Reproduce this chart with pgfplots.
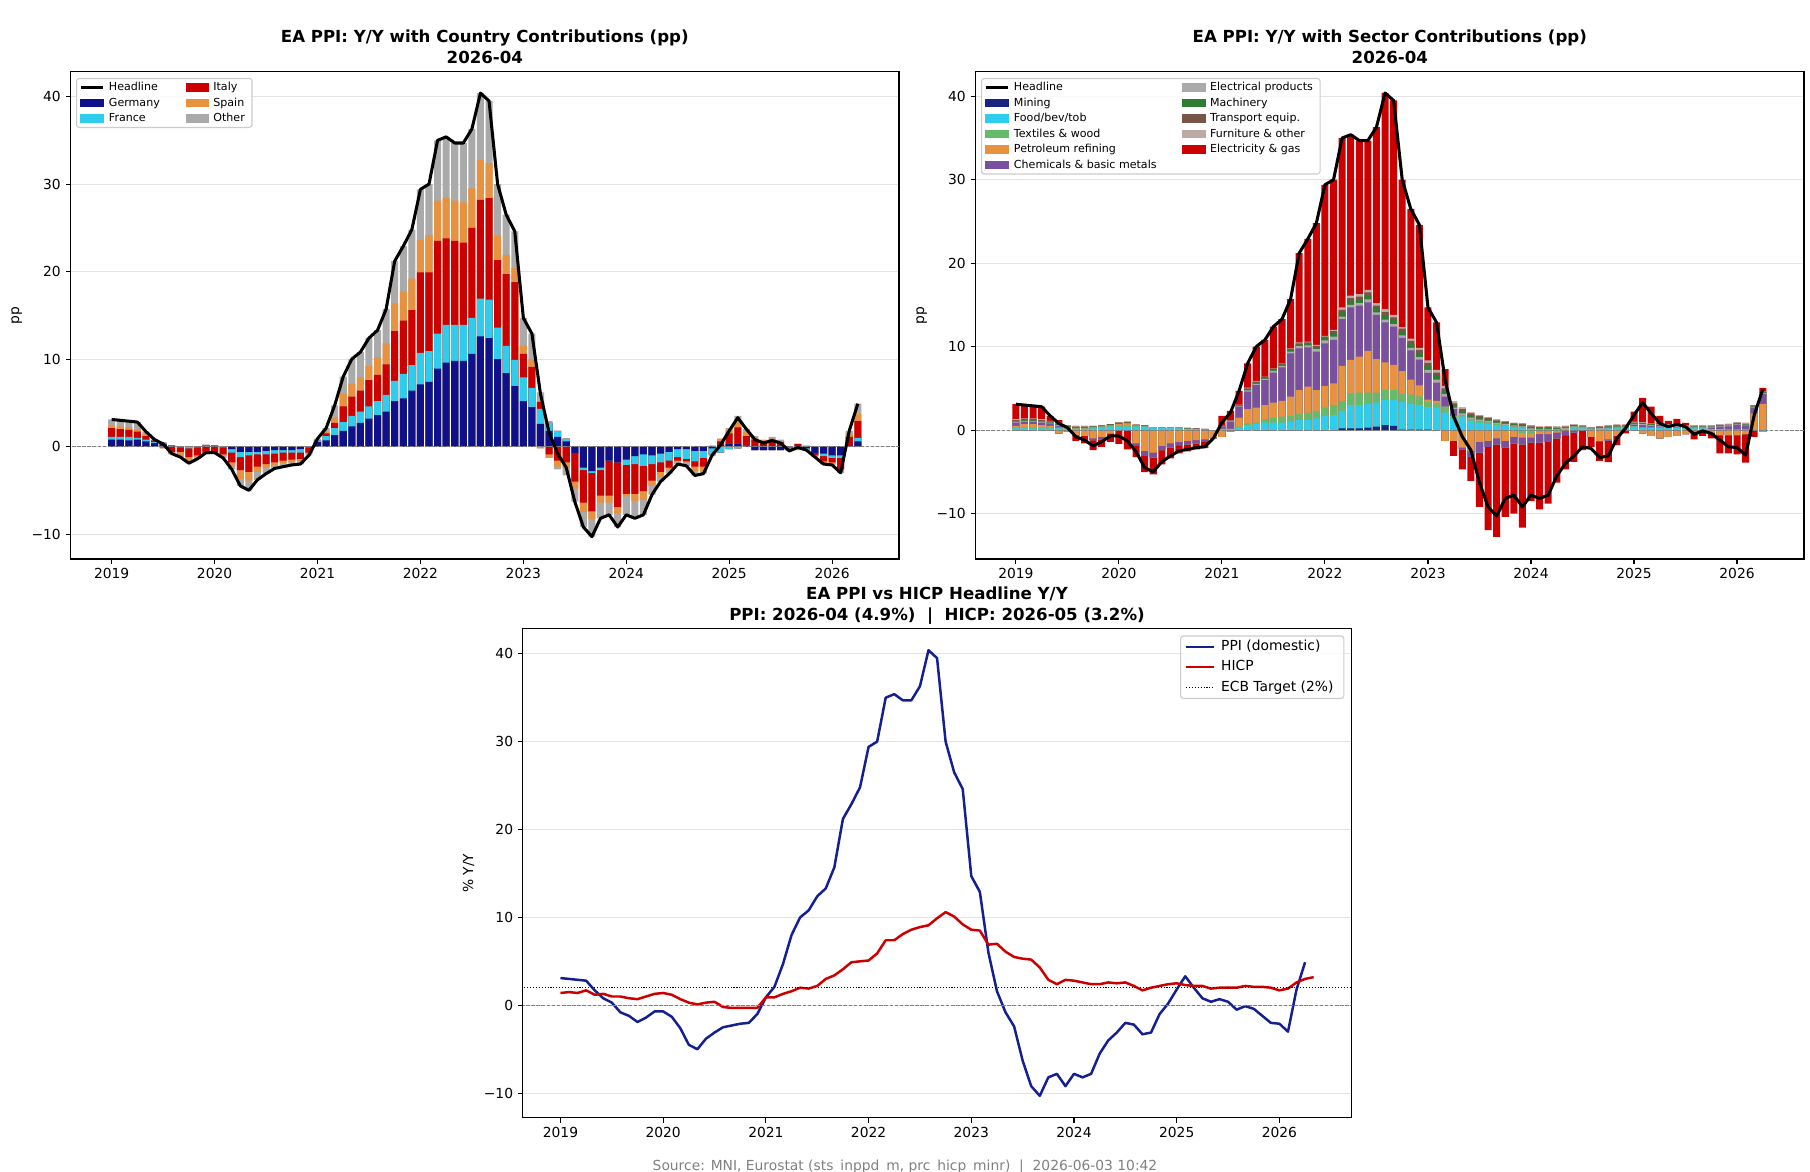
\documentclass[border=0pt]{standalone}
\usepackage{fontspec}
\setmainfont{DejaVu Sans}
\usepackage{pgfplots}
\usepackage{pgfplotstable}
\pgfplotsset{compat=1.18}

% country colours
\definecolor{cDE}{HTML}{10118A}
\definecolor{cFR}{HTML}{2ECDED}
\definecolor{cIT}{HTML}{CC0000}
\definecolor{cES}{HTML}{E8913F}
\definecolor{cOT}{HTML}{AAAAAA}
% sector colours
\definecolor{sMIN}{HTML}{1A237E}
\definecolor{sFOOD}{HTML}{2ECDED}
\definecolor{sTEX}{HTML}{66BB6A}
\definecolor{sPET}{HTML}{E8913F}
\definecolor{sCHEM}{HTML}{7B4FA0}
\definecolor{sELP}{HTML}{AAAAAA}
\definecolor{sMACH}{HTML}{2E7D32}
\definecolor{sTRN}{HTML}{795548}
\definecolor{sFURN}{HTML}{BCAAA4}
\definecolor{sELG}{HTML}{CC0000}
\definecolor{cPPI}{HTML}{14208F}
\definecolor{cHICP}{HTML}{CC0000}

% month index (0 = 2019-01), PPI headline Y/Y and country contributions (pp)
\pgfplotstableread{
m H DE FR IT ES OT
0 3.1 0.8 0.3 1.0 0.3 0.7
1 3.0 0.8 0.3 0.9 0.3 0.7
2 2.9 0.7 0.4 0.8 0.3 0.7
3 2.8 0.8 0.2 0.7 0.3 0.8
4 1.7 0.6 0.2 0.4 0.2 0.3
5 0.8 0.4 0.1 0.2 0.0 0.1
6 0.3 0.3 0.0 -0.1 -0.1 0.2
7 -0.8 0.1 0.0 -0.6 -0.2 -0.1
8 -1.2 0.0 -0.1 -0.5 -0.4 -0.2
9 -1.9 0.0 -0.2 -1.0 -0.4 -0.3
10 -1.4 0.0 -0.1 -0.9 -0.2 -0.2
11 -0.7 0.1 0.1 -0.7 -0.1 -0.1
12 -0.7 0.1 0.0 -0.7 -0.1 0.0
13 -1.3 0.0 -0.1 -0.8 -0.2 -0.2
14 -2.6 -0.3 -0.4 -1.1 -0.4 -0.4
15 -4.5 -0.6 -0.6 -1.5 -1.0 -0.8
16 -5.0 -0.6 -0.4 -1.9 -1.0 -1.1
17 -3.8 -0.6 -0.3 -1.4 -0.6 -0.9
18 -3.1 -0.5 -0.4 -1.1 -0.4 -0.7
19 -2.5 -0.4 -0.4 -1.0 -0.3 -0.4
20 -2.3 -0.4 -0.3 -0.9 -0.3 -0.4
21 -2.1 -0.4 -0.3 -0.8 -0.3 -0.3
22 -2.0 -0.3 -0.4 -0.7 -0.3 -0.3
23 -1.0 0.0 -0.1 -0.6 -0.1 -0.2
24 0.9 0.5 0.2 0.0 0.0 0.2
25 2.1 0.7 0.5 0.3 0.2 0.4
26 4.7 1.3 0.8 0.6 0.6 1.4
27 8.0 1.8 1.0 1.8 1.4 2.0
28 10.0 2.3 1.2 2.2 1.5 2.8
29 10.8 2.7 1.3 2.4 1.5 2.9
30 12.4 3.2 1.4 3.0 1.6 3.2
31 13.3 3.6 1.6 3.0 2.0 3.1
32 15.7 4.0 1.9 3.5 2.4 3.9
33 21.2 5.2 2.3 5.7 3.2 4.8
34 22.9 5.5 2.8 6.1 3.3 5.2
35 24.8 6.4 2.9 6.3 3.6 5.6
36 29.4 7.1 3.6 9.2 3.7 5.8
37 30.0 7.4 3.5 9.0 4.3 5.8
38 35.0 8.9 4.0 10.6 4.6 6.9
39 35.4 9.6 4.3 9.9 4.6 7.0
40 34.7 9.8 4.1 9.6 4.6 6.6
41 34.7 9.8 4.1 9.4 4.6 6.8
42 36.3 10.6 4.1 10.3 4.5 6.8
43 40.4 12.6 4.3 11.3 4.6 7.6
44 39.5 12.4 4.4 11.6 4.0 7.1
45 30.0 10.0 3.6 7.7 2.8 5.9
46 26.5 8.4 3.1 8.2 2.2 4.6
47 24.6 6.9 3.0 8.9 1.6 4.2
48 14.7 5.2 2.7 2.7 0.9 3.2
49 12.9 4.5 2.2 2.4 0.9 2.9
50 6.0 2.6 1.7 0.8 -0.2 1.1
51 1.6 1.8 0.9 -0.9 -0.4 0.2
52 -0.8 1.1 0.7 -1.6 -0.7 -0.3
53 -2.4 0.6 0.3 -1.8 -0.7 -0.8
54 -6.3 -0.8 0.0 -3.2 -0.8 -1.5
55 -9.2 -2.4 -0.3 -3.7 -1.1 -1.7
56 -10.3 -2.8 -0.2 -4.4 -0.9 -2.0
57 -8.2 -2.4 -0.3 -2.9 -0.8 -1.8
58 -7.8 -1.6 0.0 -4.0 -0.8 -1.4
59 -9.2 -1.8 0.0 -5.1 -0.7 -1.6
60 -7.8 -1.5 -0.6 -3.3 -0.3 -2.1
61 -8.2 -1.1 -0.9 -3.4 -0.8 -2.0
62 -7.8 -0.9 -1.3 -2.9 -1.0 -1.7
63 -5.5 -1.0 -1.0 -1.9 -0.6 -1.0
64 -4.0 -0.8 -1.0 -1.1 -0.6 -0.5
65 -3.1 -0.6 -1.0 -0.8 -0.2 -0.5
66 -2.0 -0.3 -0.9 -0.4 -0.1 -0.3
67 -2.2 -0.3 -1.1 -0.3 -0.1 -0.4
68 -3.3 -0.5 -1.2 -0.6 -0.5 -0.5
69 -3.1 -0.5 -0.8 -1.0 -0.5 -0.3
70 -1.0 -0.2 -0.7 0.0 0.1 -0.2
71 0.2 0.2 -0.7 0.4 0.3 0.0
72 1.8 0.3 -0.3 1.2 0.4 0.2
73 3.3 0.3 -0.2 1.9 0.6 0.7
74 2.0 0.1 0.0 1.1 0.5 0.3
75 0.8 -0.4 0.0 0.8 0.2 0.2
76 0.4 -0.4 0.0 0.6 0.1 0.1
77 0.7 -0.4 0.0 0.7 0.2 0.2
78 0.4 -0.4 0.0 0.5 0.1 0.2
79 -0.5 -0.1 -0.1 0.0 -0.2 -0.1
80 -0.1 -0.2 0.0 0.3 0.0 -0.2
81 -0.4 -0.2 -0.1 0.0 0.1 -0.2
82 -1.2 -0.8 0.0 -0.2 -0.1 -0.1
83 -2.0 -0.8 -0.3 -0.6 -0.3 0.0
84 -2.1 -1.0 -0.3 -0.5 -0.2 -0.1
85 -3.0 -1.0 -0.3 -1.3 -0.2 -0.2
86 1.8 0.0 0.0 1.1 0.3 0.4
87 4.9 0.6 0.4 1.9 0.8 1.2
}\ctry

% sector contributions (pp)
\pgfplotstableread{
m MIN FOOD TEX PET CHEM ELP MACH TRN FURN ELG
0 0 0.2 0.1 0.2 0.4 0.1 0.1 0.1 0.1 1.8
1 0 0.2 0.1 0.4 0.3 0.1 0.1 0.1 0.1 1.6
2 0 0.2 0.1 0.4 0.3 0.1 0.1 0.1 0.1 1.5
3 0 0.2 0.1 0.3 0.3 0.1 0.1 0.1 0.1 1.5
4 0 0.2 0.1 0.2 0.3 0.1 0.1 0.05 0.05 0.6
5 0 0.2 0.1 -0.4 0.2 0.1 0.1 0.05 0.05 0.4
6 0 0.1 0.1 -0.2 0.1 0.05 0.1 0.05 0.05 0.0
7 0 0.1 0.1 -0.6 0.0 0.05 0.1 0.05 0.1 -0.7
8 0 0.1 0.1 -0.7 0.0 0.05 0.1 0.05 0.1 -0.9
9 0 0.2 0.1 -1.0 -0.2 0.05 0.05 0.05 0.05 -1.2
10 0 0.3 0.1 -0.8 -0.3 0.05 0.05 0.05 0.05 -0.9
11 0 0.4 0.1 -0.4 0.0 0.05 0.1 0.05 0.0 -1.0
12 0 0.4 0.1 0.2 0.0 0.05 0.1 0.05 0.05 -1.65
13 0 0.4 0.1 0.3 -0.1 0.05 0.05 0.05 0.05 -2.2
14 0 0.4 0.1 -1.6 -0.3 0.05 0.05 0.05 0.0 -1.35
15 0 0.4 0.05 -2.5 -0.6 0.05 0.05 0.0 0.0 -1.95
16 0 0.3 0.0 -2.7 -0.6 0.0 0.0 0.0 0.0 -2.0
17 0 0.25 0.0 -1.9 -0.5 0.0 0.05 0.0 0.0 -1.7
18 0 0.25 0.0 -1.6 -0.5 0.0 0.05 0.0 0.0 -1.3
19 0 0.2 0.0 -1.4 -0.4 0.0 0.05 0.05 0.0 -1.0
20 0 0.15 0.0 -1.3 -0.4 0.0 0.05 0.05 0.0 -0.85
21 0 0.1 0.0 -1.2 -0.4 0.0 0.05 0.05 0.0 -0.7
22 0 0.05 0.0 -1.1 -0.3 0.0 0.05 0.05 0.0 -0.75
23 0 0.0 0.0 -0.9 -0.1 0.0 0.0 0.0 0.0 0.0
24 0 0.1 0.05 -0.8 0.3 0.05 0.05 0.05 0.0 1.1
25 0 0.1 0.05 -0.2 0.8 0.1 0.05 0.05 0.05 1.1
26 0 0.3 0.1 1.1 1.3 0.1 0.05 0.05 0.05 1.65
27 0 0.6 0.2 1.7 2.1 0.15 0.15 0.1 0.1 2.9
28 0 0.7 0.2 1.8 2.7 0.15 0.15 0.1 0.1 4.1
29 0 0.9 0.4 1.7 3.0 0.15 0.1 0.1 0.05 4.4
30 0 0.9 0.6 1.8 3.6 0.2 0.15 0.1 0.05 5.0
31 0 0.9 0.7 1.9 4.0 0.2 0.15 0.1 0.05 5.3
32 0 1.0 0.7 2.3 5.2 0.2 0.2 0.1 0.1 5.9
33 0 1.2 0.7 2.9 5.0 0.25 0.2 0.15 0.1 10.7
34 0 1.2 0.9 3.1 4.7 0.25 0.2 0.15 0.1 12.3
35 0 1.4 0.9 2.5 4.6 0.3 0.25 0.15 0.1 14.6
36 0 1.7 1.0 2.6 5.1 0.35 0.3 0.15 0.1 18.1
37 0 1.8 1.2 2.6 5.2 0.4 0.4 0.25 0.15 18.0
38 0.2 2.1 1.2 4.2 5.6 0.3 0.5 0.3 0.3 20.3
39 0.2 2.8 1.4 4.0 6.3 0.3 0.5 0.3 0.3 19.3
40 0.2 2.8 1.5 4.3 6.1 0.3 0.5 0.3 0.3 18.4
41 0.3 2.8 1.4 5.0 5.8 0.35 0.5 0.35 0.3 17.9
42 0.4 2.9 1.2 4.0 5.3 0.3 0.5 0.3 0.3 21.1
43 0.6 3.0 1.2 3.3 4.8 0.35 0.55 0.35 0.35 25.9
44 0.5 3.1 1.2 3.0 4.6 0.3 0.5 0.3 0.3 25.7
45 0.05 3.3 1.0 2.7 4.0 0.3 0.5 0.3 0.2 17.65
46 0.05 3.1 1.1 1.8 3.5 0.3 0.5 0.35 0.25 15.55
47 0.05 2.9 1.1 1.3 3.1 0.3 0.5 0.35 0.25 14.75
48 0.05 2.7 0.6 0.3 3.2 0.35 0.5 0.35 0.3 6.35
49 0.0 2.7 0.5 0.3 2.2 0.35 0.5 0.35 0.3 5.7
50 0.0 2.1 0.7 -1.3 1.2 0.3 0.4 0.3 0.3 2.0
51 0.0 1.4 0.3 -1.3 0.8 0.2 0.3 0.2 0.2 -1.8
52 0 1.6 0.2 -2.1 -0.2 0.2 0.3 0.2 0.2 -2.4
53 0 1.1 0.2 -2.5 -0.7 0.2 0.3 0.2 0.1 -2.9
54 0 0.9 0.15 -1.4 -1.3 0.2 0.3 0.15 0.1 -6.5
55 0 0.8 0.1 -1.3 -0.7 0.2 0.2 0.15 0.1 -10.0
56 0 0.6 0.1 -1.0 -0.7 0.15 0.2 0.1 0.1 -11.1
57 0 0.5 0.1 -1.3 -0.8 0.15 0.15 0.1 0.05 -8.3
58 0 0.3 0.1 -0.8 -0.8 0.15 0.15 0.1 0.05 -8.4
59 0 0.3 -0.4 -0.5 -0.8 0.15 0.15 0.1 0.1 -10.0
60 0 0.1 -0.5 -0.4 -0.6 0.1 0.15 0.1 0.1 -7.0
61 0 0.05 -0.2 -0.3 -1.0 0.1 0.1 0.1 0.05 -8.0
62 0 0.05 -0.2 -0.3 -0.9 0.1 0.1 0.1 0.1 -7.4
63 0 0.05 -0.1 -0.2 -0.7 0.1 0.1 0.05 0.1 -5.3
64 0 0.1 0.05 -0.1 -0.5 0.1 0.1 0.05 0.1 -4.1
65 0 0.2 0.05 0.1 -0.3 0.1 0.1 0.05 0.1 -3.5
66 0 0.2 0.0 0.1 -0.1 0.1 0.05 0.05 0.05 -2.3
67 0 0.1 0.0 -0.8 0.05 0.05 0.05 0.05 0.05 -1.2
68 0 0.15 0.0 -1.3 -0.1 0.1 0.1 0.05 0.05 -2.3
69 0 0.2 0.0 -1.1 -0.15 0.1 0.1 0.05 0.1 -2.6
70 0 0.2 0.05 -0.7 0.05 0.1 0.1 0.05 0.1 -1.1
71 0 0.2 0.0 0.0 0.1 0.1 0.1 0.05 0.1 -0.4
72 0 0.4 0.05 0.0 0.2 0.1 0.1 0.05 0.1 1.2
73 0 0.3 0.0 -0.4 0.3 0.1 0.1 0.05 0.1 2.9
74 0 0.3 0.0 -0.7 0.2 0.1 0.1 0.05 0.05 2.0
75 0 0.3 0.0 -1.0 0.1 0.1 0.1 0.05 0.05 1.0
76 0 0.3 0.0 -0.8 0.1 0.1 0.1 0.05 0.05 0.4
77 0 0.3 0.0 -0.7 0.1 0.1 0.05 0.05 0.05 0.7
78 0 0.2 0.0 -0.5 0.1 0.1 0.05 0.05 0.05 0.3
79 0 0.2 0.0 -0.2 0.1 0.1 0.05 0.05 0.1 -0.9
80 0 0.2 0.0 -0.2 0.1 0.1 0.05 0.05 0.1 -0.5
81 0 0.1 0.0 -0.3 0.2 0.1 0.05 0.05 0.1 -0.7
82 0 0.1 0.0 -0.6 0.3 0.1 0.05 0.05 0.1 -2.2
83 0 0.05 0.0 -0.6 0.4 0.1 0.05 0.05 0.1 -2.2
84 0 0.05 0.0 -0.6 0.6 0.1 0.05 0.05 0.1 -2.3
85 0 0.05 0.0 -0.5 0.5 0.1 0.05 0.05 0.1 -3.4
86 0 0.05 0.05 1.9 0.7 0.1 0.1 0.05 0.05 -0.8
87 0 -0.2 0.05 3.1 1.2 0.1 0.1 0.05 0.05 0.4
}\sect

% HICP headline Y/Y (%)
\pgfplotstableread{
m V
0 1.4
1 1.5
2 1.4
3 1.7
4 1.2
5 1.3
6 1.0
7 1.0
8 0.8
9 0.7
10 1.0
11 1.3
12 1.4
13 1.2
14 0.7
15 0.3
16 0.1
17 0.3
18 0.4
19 -0.2
20 -0.3
21 -0.3
22 -0.3
23 -0.3
24 0.9
25 0.9
26 1.3
27 1.6
28 2.0
29 1.9
30 2.2
31 3.0
32 3.4
33 4.1
34 4.9
35 5.0
36 5.1
37 5.9
38 7.4
39 7.4
40 8.1
41 8.6
42 8.9
43 9.1
44 9.9
45 10.6
46 10.1
47 9.2
48 8.6
49 8.5
50 6.9
51 7.0
52 6.1
53 5.5
54 5.3
55 5.2
56 4.3
57 2.9
58 2.4
59 2.9
60 2.8
61 2.6
62 2.4
63 2.4
64 2.6
65 2.5
66 2.6
67 2.2
68 1.7
69 2.0
70 2.2
71 2.4
72 2.5
73 2.3
74 2.2
75 2.2
76 1.9
77 2.0
78 2.0
79 2.0
80 2.2
81 2.1
82 2.1
83 2.0
84 1.7
85 1.9
86 2.6
87 3.0
88 3.2
}\hicp

% positive and negative parts, stacked separately
\newcommand\Pc[1]{max(\thisrow{#1},0)}
\newcommand\Nc[1]{min(\thisrow{#1},0)}

% legend handles
\newcommand\legbar[1]{\addlegendimage{legend image code/.code={\fill[#1, fill opacity=1, sharp corners] (0pt,-2.8pt) rectangle (16pt,2.8pt);}}}
\newcommand\legline[2]{\addlegendimage{legend image code/.code={\draw[#2, draw opacity=1, sharp corners] (0pt,0pt) -- (#1,0pt);}}}

\pgfplotsset{
  panel/.style={
    scale only axis,
    anchor=south west,
    ytick={-10,0,10,20,30,40},
    yticklabels={−10,0,10,20,30,40},
    xtick={0,12,24,36,48,60,72,84},
    xticklabels={2019,2020,2021,2022,2023,2024,2025,2026},
    tick pos=left,
    tick align=outside,
    major tick length=3.5pt,
    tick style={black, line width=0.8pt},
    axis line style={line width=0.8pt},
    ymajorgrids,
    major grid style={black!11, line width=0.8pt},
    tick label style={font=\fontsize{10}{12}\selectfont},
    label style={font=\fontsize{10}{12}\selectfont},
    legend cell align=left,
  },
  cbar/.style={ybar, bar width=0.82, bar shift=0pt, draw=none, fill=#1, forget plot},
  zeroline/.style={black!50, line width=0.6pt, dash pattern=on 2.6pt off 1.1pt, forget plot},
  smalllegend/.style={legend style={font=\fontsize{8}{9.6}\selectfont,
      draw=black!20, line width=0.8pt, rounded corners=2pt,
      fill=white, fill opacity=0.8, text opacity=1, draw opacity=1,
      inner xsep=2pt, inner ysep=2.6pt, row sep=3.4pt,
      nodes={inner xsep=3.2pt, inner ysep=0pt, text height=6.2pt, text depth=1.6pt},
      /tikz/every even column/.append style={column sep=15.5pt}}},
}

\begin{document}
\begin{tikzpicture}
\useasboundingbox (0,0) rectangle (18.1in,11.72in);

% ---------------- country contributions ----------------
\begin{axis}[panel, at={(0.705in,6.13in)}, width=8.285in, height=4.873in,
  xmin=-4.8, xmax=91.8, ymin=-12.85, ymax=42.85, ylabel={pp},
  smalllegend, legend columns=2,
  legend style={at={(0,1)}, anchor=north west, xshift=4pt, yshift=-4.5pt}]
\addplot[cbar=cOT] table[x=m, y expr={\Pc{DE}+\Pc{FR}+\Pc{IT}+\Pc{ES}+\Pc{OT}}]{\ctry};
\addplot[cbar=cES] table[x=m, y expr={\Pc{DE}+\Pc{FR}+\Pc{IT}+\Pc{ES}}]{\ctry};
\addplot[cbar=cIT] table[x=m, y expr={\Pc{DE}+\Pc{FR}+\Pc{IT}}]{\ctry};
\addplot[cbar=cFR] table[x=m, y expr={\Pc{DE}+\Pc{FR}}]{\ctry};
\addplot[cbar=cDE] table[x=m, y expr={\Pc{DE}}]{\ctry};
\addplot[cbar=cOT] table[x=m, y expr={\Nc{DE}+\Nc{FR}+\Nc{IT}+\Nc{ES}+\Nc{OT}}]{\ctry};
\addplot[cbar=cES] table[x=m, y expr={\Nc{DE}+\Nc{FR}+\Nc{IT}+\Nc{ES}}]{\ctry};
\addplot[cbar=cIT] table[x=m, y expr={\Nc{DE}+\Nc{FR}+\Nc{IT}}]{\ctry};
\addplot[cbar=cFR] table[x=m, y expr={\Nc{DE}+\Nc{FR}}]{\ctry};
\addplot[cbar=cDE] table[x=m, y expr={\Nc{DE}}]{\ctry};
\addplot[zeroline] coordinates {(-10,0) (100,0)};
\addplot[black, line width=2.2pt, line join=round, forget plot] table[x=m, y=H]{\ctry};
\legline{16pt}{black, line width=2.2pt}\addlegendentry{Headline}
\legbar{cIT}\addlegendentry{Italy}
\legbar{cDE}\addlegendentry{Germany}
\legbar{cES}\addlegendentry{Spain}
\legbar{cFR}\addlegendentry{France}
\legbar{cOT}\addlegendentry{Other}
\end{axis}

% ---------------- sector contributions ----------------
\def\pA{\Pc{MIN}}
\def\pB{\pA+\Pc{FOOD}}
\def\pC{\pB+\Pc{TEX}}
\def\pD{\pC+\Pc{PET}}
\def\pE{\pD+\Pc{CHEM}}
\def\pF{\pE+\Pc{ELP}}
\def\pG{\pF+\Pc{MACH}}
\def\pH{\pG+\Pc{TRN}}
\def\pI{\pH+\Pc{FURN}}
\def\pJ{\pI+\Pc{ELG}}
\def\nA{\Nc{MIN}}
\def\nB{\nA+\Nc{FOOD}}
\def\nC{\nB+\Nc{TEX}}
\def\nD{\nC+\Nc{PET}}
\def\nE{\nD+\Nc{CHEM}}
\def\nF{\nE+\Nc{ELP}}
\def\nG{\nF+\Nc{MACH}}
\def\nH{\nG+\Nc{TRN}}
\def\nI{\nH+\Nc{FURN}}
\def\nJ{\nI+\Nc{ELG}}
\begin{axis}[panel, at={(9.755in,6.13in)}, width=8.285in, height=4.873in,
  xmin=-4.7, xmax=91.8, ymin=-15.45, ymax=42.95, ylabel={pp},
  smalllegend, legend columns=2,
  legend style={at={(0,1)}, anchor=north west, xshift=4pt, yshift=-4.5pt}]
\addplot[cbar=sELG]  table[x=m, y expr={\pJ}]{\sect};
\addplot[cbar=sFURN] table[x=m, y expr={\pI}]{\sect};
\addplot[cbar=sTRN]  table[x=m, y expr={\pH}]{\sect};
\addplot[cbar=sMACH] table[x=m, y expr={\pG}]{\sect};
\addplot[cbar=sELP]  table[x=m, y expr={\pF}]{\sect};
\addplot[cbar=sCHEM] table[x=m, y expr={\pE}]{\sect};
\addplot[cbar=sPET]  table[x=m, y expr={\pD}]{\sect};
\addplot[cbar=sTEX]  table[x=m, y expr={\pC}]{\sect};
\addplot[cbar=sFOOD] table[x=m, y expr={\pB}]{\sect};
\addplot[cbar=sMIN]  table[x=m, y expr={\pA}]{\sect};
\addplot[cbar=sELG]  table[x=m, y expr={\nJ}]{\sect};
\addplot[cbar=sFURN] table[x=m, y expr={\nI}]{\sect};
\addplot[cbar=sTRN]  table[x=m, y expr={\nH}]{\sect};
\addplot[cbar=sMACH] table[x=m, y expr={\nG}]{\sect};
\addplot[cbar=sELP]  table[x=m, y expr={\nF}]{\sect};
\addplot[cbar=sCHEM] table[x=m, y expr={\nE}]{\sect};
\addplot[cbar=sPET]  table[x=m, y expr={\nD}]{\sect};
\addplot[cbar=sTEX]  table[x=m, y expr={\nC}]{\sect};
\addplot[cbar=sFOOD] table[x=m, y expr={\nB}]{\sect};
\addplot[cbar=sMIN]  table[x=m, y expr={\nA}]{\sect};
\addplot[zeroline] coordinates {(-10,0) (100,0)};
\addplot[black, line width=2.2pt, line join=round, forget plot] table[x=m, y=H]{\ctry};
\legline{16pt}{black, line width=2.2pt}\addlegendentry{Headline}
\legbar{sELP}\addlegendentry{Electrical products}
\legbar{sMIN}\addlegendentry{Mining}
\legbar{sMACH}\addlegendentry{Machinery}
\legbar{sFOOD}\addlegendentry{Food/bev/tob}
\legbar{sTRN}\addlegendentry{Transport equip.}
\legbar{sTEX}\addlegendentry{Textiles \& wood}
\legbar{sFURN}\addlegendentry{Furniture \& other}
\legbar{sPET}\addlegendentry{Petroleum refining}
\legbar{sELG}\addlegendentry{Electricity \& gas}
\legbar{sCHEM}\addlegendentry{Chemicals \& basic metals}
\end{axis}

% ---------------- PPI vs HICP ----------------
\begin{axis}[panel, at={(5.228in,0.543in)}, width=8.285in, height=4.892in,
  xmin=-4.4, xmax=92.4, ymin=-12.79, ymax=42.87, ylabel={\% Y/Y},
  legend style={at={(1,1)}, anchor=north east, xshift=-5pt, yshift=-5pt,
    font=\fontsize{10}{12}\selectfont,
    draw=black!20, line width=0.8pt, rounded corners=2pt,
    fill=white, fill opacity=0.8, text opacity=1, draw opacity=1,
    inner xsep=3pt, inner ysep=3pt, row sep=4.6pt,
    nodes={inner xsep=4.5pt, inner ysep=0pt, text height=7.7pt, text depth=2.3pt}}]
\addplot[cPPI, line width=1.8pt, line join=round, forget plot] table[x=m, y=H]{\ctry};
\addplot[cHICP, line width=1.8pt, line join=round, forget plot] table[x=m, y=V]{\hicp};
\addplot[black, line width=0.8pt, dash pattern=on 0.8pt off 1.3pt, forget plot] coordinates {(-10,2) (100,2)};
\addplot[zeroline] coordinates {(-10,0) (100,0)};
\legline{20pt}{cPPI, line width=1.8pt}\addlegendentry{PPI (domestic)}
\legline{20pt}{cHICP, line width=1.8pt}\addlegendentry{HICP}
\legline{20pt}{black, line width=0.8pt, dash pattern=on 0.8pt off 1.3pt}\addlegendentry{ECB Target (2\%)}
\end{axis}

% titles
\begin{scope}[every node/.style={anchor=base, inner sep=0pt, font=\bfseries\fontsize{12}{14}\selectfont}]
\node at (4.848in,11.296in) {EA PPI: Y/Y with Country Contributions (pp)};
\node at (4.848in,11.086in) {2026-04};
\node at (13.898in,11.296in) {EA PPI: Y/Y with Sector Contributions (pp)};
\node at (13.898in,11.086in) {2026-04};
\node at (9.37in,5.728in) {EA PPI vs HICP Headline Y/Y};
\node at (9.37in,5.518in) {PPI: 2026-04 (4.9\%)\ \ |\ \ HICP: 2026-05 (3.2\%)};
\end{scope}
\node[anchor=base, inner sep=0pt, text=black!50, font=\fontsize{10}{12}\selectfont] at (9.05in,0.012in)
  {Source: MNI, Eurostat (sts\_inppd\_m, prc\_hicp\_minr)\ \ |\ \ 2026-06-03 10:42};
\end{tikzpicture}
\end{document}
